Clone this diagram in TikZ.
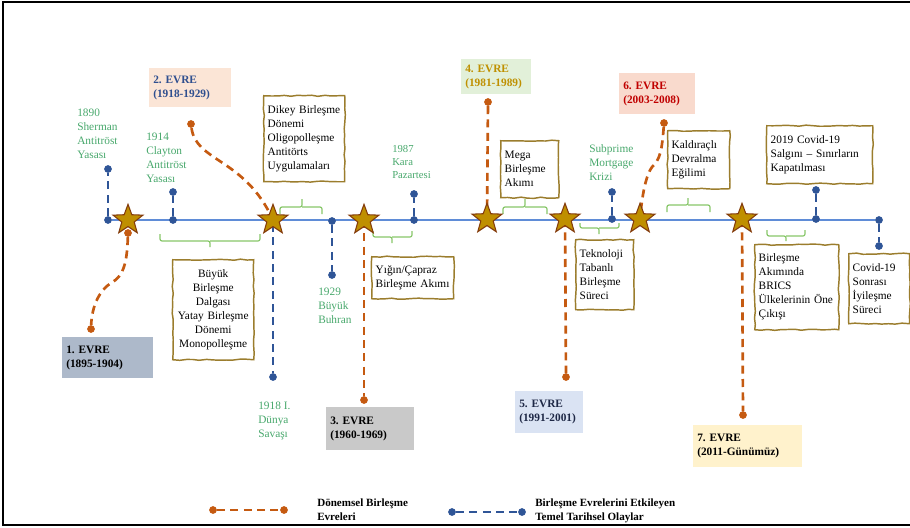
\documentclass[tikz,border=0pt]{standalone}
\usepackage{fontspec}
\setmainfont{Liberation Serif}
\usetikzlibrary{shapes.geometric,decorations.pathmorphing}
\pgfdeclarelayer{bg}
\pgfsetlayers{bg,main}
\definecolor{tlblue}{RGB}{95,140,215}
\definecolor{evblue}{RGB}{47,85,151}
\definecolor{phor}{RGB}{197,90,17}
\definecolor{stargold}{RGB}{191,143,0}
\definecolor{starbrown}{RGB}{132,60,12}
\definecolor{lblgreen}{RGB}{72,168,108}
\definecolor{brcgreen}{RGB}{135,198,105}
\definecolor{boxbrown}{RGB}{155,125,45}
\definecolor{fone}{RGB}{173,185,202}
\definecolor{ftwo}{RGB}{251,229,214}
\definecolor{fthree}{RGB}{201,201,201}
\definecolor{ffour}{RGB}{226,240,217}
\definecolor{ffive}{RGB}{218,227,243}
\definecolor{fsix}{RGB}{249,218,205}
\definecolor{fseven}{RGB}{255,242,204}
\definecolor{ttwo}{RGB}{47,79,143}
\definecolor{tfour}{RGB}{191,144,0}
\definecolor{tfive}{RGB}{30,40,70}
\definecolor{tsix}{RGB}{192,0,0}
\frenchspacing
\begin{document}
\begin{tikzpicture}[x=0.75pt,y=-0.75pt,
  evstar/.style={star, star points=5, star point ratio=2.4, minimum size=23.5pt, inner sep=0pt, fill=stargold, draw=starbrown, line width=0.8pt},
  bdot/.style={circle, fill=evblue, inner sep=0pt, minimum size=5.8pt},
  odot/.style={circle, fill=phor, inner sep=0pt, minimum size=5.8pt},
  bline/.style={draw=evblue, line width=2pt, dash pattern=on 6pt off 4pt},
  oline/.style={draw=phor, line width=2pt, dash pattern=on 6pt off 4pt},
  tline/.style={draw=tlblue, line width=1.1pt},
  brc/.style={draw=brcgreen, line width=0.9pt, rounded corners=1.5pt},
  lbl/.style={text=lblgreen, font=\fontsize{8.5}{10.5}\selectfont, align=left, inner sep=0pt, anchor=west},
  sbox/.style={draw=boxbrown, line width=1.1pt, fill=white, font=\fontsize{8.5}{10.5}\selectfont, anchor=north west, inner xsep=3pt, inner ysep=0pt, align=left, decorate, decoration={random steps, segment length=5pt, amplitude=0.45pt}},
  pbox/.style={anchor=north west, font=\bfseries\fontsize{8.5}{10.5}\selectfont, align=left, inner xsep=3pt, inner ysep=0pt},
  lgd/.style={font=\bfseries\fontsize{8.3}{10.5}\selectfont, align=left, inner sep=0pt, anchor=west}
]
\useasboundingbox (0,0) rectangle (910,528);
\draw[line width=1.5pt] (910,2.5) -- (2.5,2.5) -- (2.5,525) -- (910,525);

% dots of historical events
\node[bdot] (b1a) at (108,220) {};
\node[bdot] (b1b) at (108,169) {};
\node[bdot] (b2a) at (173,220) {};
\node[bdot] (b2b) at (173,192) {};
\node[bdot] (b3a) at (273,220) {};
\node[bdot] (b3b) at (273,377) {};
\node[bdot] (b4a) at (332,221) {};
\node[bdot] (b4b) at (332,275) {};
\node[bdot] (b5a) at (414,220) {};
\node[bdot] (b5b) at (414,194) {};
\node[bdot] (b6a) at (612,219) {};
\node[bdot] (b6b) at (612,192) {};
\node[bdot] (b7a) at (816,219) {};
\node[bdot] (b7b) at (816,190) {};
\node[bdot] (b8a) at (879,220) {};
\node[bdot] (b8b) at (879,246) {};

% dots of phases
\node[odot] (o1a) at (128,233) {};
\node[odot] (o1b) at (91,329) {};
\node[odot] (o2a) at (191,124) {};
\node[odot] (o3b) at (364,400) {};
\node[odot] (o4a) at (488,102) {};
\node[odot] (o5b) at (566,377) {};
\node[odot] (o6a) at (664,123) {};
\node[odot] (o7b) at (743,415) {};

% stars
\node[evstar] (s1) at (128,220) {};
\node[evstar] (s2) at (273,220) {};
\node[evstar] (s3) at (364,220) {};
\node[evstar] (s4) at (487,219) {};
\node[evstar] (s5) at (565,219) {};
\node[evstar] (s6) at (640,219) {};
\node[evstar] (s7) at (742,219) {};

\begin{pgfonlayer}{bg}
\draw[tline] (b1a) -- (b8a);
\draw[bline] (b1a) -- (b1b);
\draw[bline] (b2a) -- (b2b);
\draw[bline] (b3a) -- (b3b);
\draw[bline] (b4a) -- (b4b);
\draw[bline] (b5a) -- (b5b);
\draw[bline] (b6a) -- (b6b);
\draw[bline] (b7a) -- (b7b);
\draw[bline] (b8a) -- (b8b);
\draw[oline] (o1a) .. controls (127,262) and (124,276) .. (111,283) .. controls (100,290) and (92,305) .. (o1b);
\draw[oline] (o2a) .. controls (196,162) and (245,158) .. (s2.center);
\draw[oline] (s3.center) -- (o3b);
\draw[oline] (o4a) -- (s4.center);
\draw[oline] (s5.center) -- (o5b);
\draw[oline] (o6a) .. controls (662,150) and (660,160) .. (652,167) .. controls (646,175) and (642,195) .. (s6.center);
\draw[oline] (s7.center) -- (o7b);
\foreach \xa/\xb/\ya/\yh/\xm/\yt in {160/260/234/241/210/247, 280/322/214/207/302/199, 373/412/231/237/392/243, 503/547/214/207/525/199, 580/619/223/228/599/234, 667/710/212/205/688/198, 767/805/230/236/786/241}
  \draw[brc] (\xa,\ya) |- (\xm,\yh) -- (\xm,\yt) (\xm,\yh) -| (\xb,\ya);
\end{pgfonlayer}

% green labels
\node[lbl] (l1) at (77,133.5) {1890\\Sherman\\Antitröst\\Yasası};
\node[lbl] (l2) at (146,157.5) {1914\\Clayton\\Antitröst\\Yasası};
\node[lbl] (l3) at (258,421) {1918 I.\\Dünya\\Savaşı};
\node[lbl] (l4) at (318,305.5) {1929\\Büyük\\Buhran};
\node[lbl, font=\fontsize{8}{9.8}\selectfont] (l5) at (392,162) {1987\\Kara\\Pazartesi};
\node[lbl] (l6) at (589,163) {Subprime\\Mortgage\\Krizi};

% phase boxes
\node[pbox, fill=fone, minimum width=68.25pt, minimum height=30.75pt, text width=62.25pt] (e1) at (62,337) {1. EVRE\\(1895-1904)};
\node[pbox, fill=ftwo, text=ttwo, minimum width=61.5pt, minimum height=29.25pt, text width=55.5pt] (e2) at (149,68) {2. EVRE\\(1918-1929)};
\node[pbox, fill=fthree, minimum width=66pt, minimum height=32.25pt, text width=60pt] (e3) at (326,407) {3. EVRE\\(1960-1969)};
\node[pbox, fill=ffour, text=tfour, minimum width=52.5pt, minimum height=26.25pt, text width=46.5pt] (e4) at (461,59) {4. EVRE\\(1981-1989)};
\node[pbox, fill=ffive, text=tfive, minimum width=51pt, minimum height=31.5pt, text width=45pt] (e5) at (515,391) {5. EVRE\\(1991-2001)};
\node[pbox, fill=fsix, text=tsix, minimum width=57pt, minimum height=30.75pt, text width=51pt] (e6) at (619,73) {6. EVRE\\(2003-2008)};
\node[pbox, fill=fseven, minimum width=81.75pt, minimum height=31.5pt, text width=75.75pt] (e7) at (693,425) {7. EVRE\\(2011-Günümüz)};

% description boxes
\node[sbox, minimum width=60.75pt, minimum height=64.5pt, text width=54.75pt] (d1) at (263,95) {Dikey Birleşme\\Dönemi\\Oligopolleşme\\Antitörts\\Uygulamaları};
\node[sbox, align=center, minimum width=60.75pt, minimum height=75pt, text width=54.75pt] (d2) at (172,259) {Büyük\\Birleşme\\Dalgası\\Yatay~Birleşme\\Dönemi\\Monopolleşme};
\node[sbox, minimum width=61.5pt, minimum height=31.5pt, text width=55.5pt] (d3) at (371,256) {Yığın/Çapraz\\Birleşme~Akımı};
\node[sbox, minimum width=43.5pt, minimum height=42.75pt, text width=37.5pt] (d4) at (500,140) {Mega\\Birleşme\\Akımı};
\node[sbox, minimum width=43.5pt, minimum height=52.5pt, text width=37.5pt] (d5) at (575,239) {Teknoloji\\Tabanlı\\Birleşme\\Süreci};
\node[sbox, minimum width=46.5pt, minimum height=43.5pt, text width=40.5pt] (d6) at (667,130) {Kaldıraçlı\\Devralma\\Eğilimi};
\node[sbox, minimum width=79.5pt, minimum height=43.5pt, text width=73.5pt] (d7) at (766,125) {2019 Covid-19\\Salgını~–~Sınırların\\Kapatılması};
\node[sbox, minimum width=63pt, minimum height=63.75pt, text width=57pt] (d8) at (754,244) {Birleşme\\Akımında\\BRICS\\Ülkelerinin~Öne\\Çıkışı};
\node[sbox, minimum width=45.75pt, minimum height=52.5pt, text width=39.75pt] (d9) at (848,253) {Covid-19\\Sonrası\\İyileşme\\Süreci};

% legend
\node[odot] (lo1) at (213,510) {};
\node[odot] (lo2) at (284,510) {};
\node[bdot] (lb1) at (452,512) {};
\node[bdot] (lb2) at (522,512) {};
\begin{pgfonlayer}{bg}
\draw[oline] (lo1) -- (lo2);
\draw[bline] (lb1) -- (lb2);
\end{pgfonlayer}
\node[lgd] (lt1) at (317,510) {Dönemsel Birleşme\\Evreleri};
\node[lgd] (lt2) at (535,511) {Birleşme Evrelerini Etkileyen\\Temel Tarihsel Olaylar};
\end{tikzpicture}
\end{document}
